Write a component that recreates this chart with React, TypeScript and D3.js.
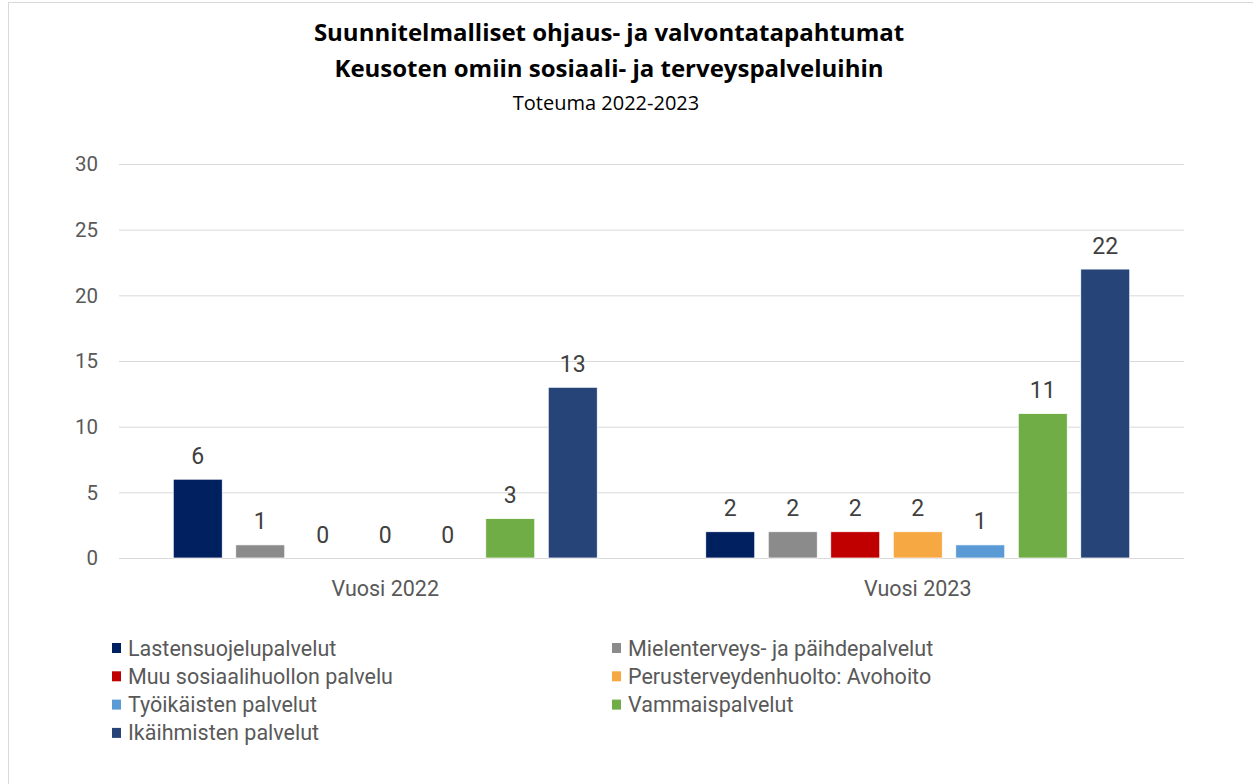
import React from "react";
import * as d3 from "d3";

const years = ["Vuosi 2022", "Vuosi 2023"];
const series = [
  "Lastensuojelupalvelut",
  "Mielenterveys- ja päihdepalvelut",
  "Muu sosiaalihuollon palvelu",
  "Perusterveydenhuolto: Avohoito",
  "Työikäisten palvelut",
  "Vammaispalvelut",
  "Ikäihmisten palvelut",
];
const colors = ["#002060", "#8b8b8b", "#c00000", "#f6a843", "#5b9bd5", "#70ad47", "#264478"];
const values2022 = [6, 1, 0, 0, 0, 3, 13];
const values2023 = [2, 2, 2, 2, 1, 11, 22];
const yTicks = [0, 5, 10, 15, 20, 25, 30];

const W = 1253;
const H = 784;
const plot = { left: 119, right: 1184, top: 164, bottom: 558 };
const font = "Roboto, 'Noto Sans', sans-serif";
const titleFont = "'Open Sans', sans-serif";

export default function App() {
  const byYear = [values2022, values2023];
  const x0 = d3.scaleBand<string>().domain(years).range([plot.left, plot.right]);
  const x1 = d3
    .scaleBand<string>()
    .domain(series)
    .range([0, x0.bandwidth()])
    .paddingInner(0.216)
    .paddingOuter(0.868);
  const y = d3.scaleLinear().domain([0, 30]).range([plot.bottom, plot.top]);

  return (
    <svg
      width={W}
      height={H}
      style={{ position: "absolute", left: 0, top: 0, background: "#fff" }}
    >
      <rect x={8.5} y={2.5} width={1260} height={800} fill="#fff" stroke="#d9d9d9" />

      {/* title */}
      <text x={609} y={41} textAnchor="middle" fontFamily={titleFont} fontWeight={700} fontSize={24} fill="#000">
        Suunnitelmalliset ohjaus- ja valvontatapahtumat
      </text>
      <text x={609} y={77} textAnchor="middle" fontFamily={titleFont} fontWeight={700} fontSize={24} fill="#000">
        Keusoten omiin sosiaali- ja terveyspalveluihin
      </text>
      <text x={606} y={110} textAnchor="middle" fontFamily={titleFont} fontSize={20} fill="#000">
        Toteuma 2022-2023
      </text>

      {/* grid + y axis */}
      {yTicks.map((t) => (
        <g key={t}>
          <line x1={plot.left} x2={plot.right} y1={y(t) + 0.5} y2={y(t) + 0.5} stroke="#d9d9d9" strokeWidth={1} />
          <text x={98} y={y(t)} dy="0.35em" textAnchor="end" fontFamily={font} fontSize={20.5} fill="#595959">
            {t}
          </text>
        </g>
      ))}

      {/* bars */}
      {years.map((yr, gi) => (
        <g key={yr} transform={`translate(${x0(yr)},0)`}>
          {series.map((s, i) => {
            const v = byYear[gi][i];
            const bx = x1(s)!;
            return (
              <g key={s}>
                {v > 0 && (
                  <rect
                    x={bx}
                    y={y(v)}
                    width={x1.bandwidth()}
                    height={y(0) - y(v)}
                    fill={colors[i]}
                    stroke="#fff"
                    strokeWidth={0.75}
                  />
                )}
                <text
                  x={bx + x1.bandwidth() / 2}
                  y={y(v) - 15.5}
                  textAnchor="middle"
                  fontFamily={font}
                  fontSize={23}
                  fill="#404040"
                >
                  {v}
                </text>
              </g>
            );
          })}
          <text
            x={x0.bandwidth() / 2}
            y={596}
            textAnchor="middle"
            fontFamily={font}
            fontSize={21.5}
            fill="#595959"
          >
            {yr}
          </text>
        </g>
      ))}

      {/* legend */}
      {series.map((s, i) => {
        const col = i % 2;
        const row = Math.floor(i / 2);
        const lx = col === 0 ? 112 : 612;
        const ly = 648 + row * 28.3;
        return (
          <g key={s} transform={`translate(${lx},${ly})`}>
            <rect x={0} y={-5} width={9} height={10} fill={colors[i]} />
            <text x={16} y={0} dy="0.35em" fontFamily={font} fontSize={21.5} fill="#595959">
              {s}
            </text>
          </g>
        );
      })}
    </svg>
  );
}
